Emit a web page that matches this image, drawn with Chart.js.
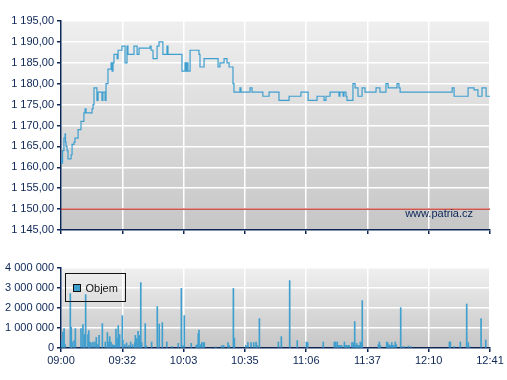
<!DOCTYPE html>
<html>
<head>
<meta charset="utf-8">
<script src="https://cdn.jsdelivr.net/npm/chart.js@4.4.1/dist/chart.umd.min.js"></script>
<style>
    body { margin: 0; background: #fff; width: 507px; height: 380px; overflow: hidden; position: relative; }
    #priceChart { position: absolute; left: 0; top: 0; }
    #volumeChart { position: absolute; left: 0; top: 255px; }
</style>
</head>
<body>
<canvas id="priceChart" width="507" height="245"></canvas>
<canvas id="volumeChart" width="507" height="125"></canvas>
<script>
// session 09:00 - 12:41, time in minutes from 09:00
const sessionLength = 221;
const timeLabels = ['09:00', '09:32', '10:03', '10:35', '11:06', '11:37', '12:10', '12:41'];
const referencePrice = 1150;

const priceTimes = [
    0, 0.5, 0.8, 1.5, 2.1, 2.3, 2.6, 3.1, 3.6, 5.2,
    5.7, 6.7, 7.2, 8.8, 10.3, 11.8, 12.4, 12.9, 16.0, 16.5,
    17.0, 18.5, 19.1, 21.1, 21.6, 22.7, 23.2, 24.2, 25.8, 26.3,
    26.8, 27.3, 28.9, 29.4, 31.4, 33.0, 34.0, 34.5, 37.6, 39.2,
    40.2, 45.9, 46.4, 47.4, 49.5, 50.5, 52.5, 54.6, 55.1, 62.3,
    63.9, 64.4, 64.9, 65.4, 66.5, 71.1, 71.6, 73.7, 80.9, 81.9,
    84.0, 85.5, 86.6, 88.6, 89.1, 92.2, 92.7, 97.4, 98.4, 104.0,
    107.2, 112.3, 117.5, 123.6, 127.3, 131.9, 135.5, 136.5, 138.6, 143.2,
    143.7, 145.3, 145.8, 146.8, 147.3, 150.4, 151.5, 153.0, 155.1, 156.6,
    162.3, 164.3, 167.4, 168.5, 173.1, 174.1, 174.7, 201.5, 202.5, 209.7,
    212.8, 214.8, 216.9, 219.0, 221
];
const priceValues = [
    1161, 1162, 1161, 1164, 1167, 1168, 1166, 1165, 1164, 1162,
    1163, 1165.5, 1166, 1167, 1169, 1171, 1173, 1174, 1173, 1174,
    1175, 1179, 1176, 1178, 1176, 1178, 1176, 1180, 1183.5, 1185,
    1183, 1185, 1187, 1186, 1188, 1189, 1185, 1189, 1187, 1189,
    1187, 1188.5, 1189, 1188, 1186, 1189, 1190, 1187, 1189, 1187,
    1183, 1185, 1183, 1185, 1183, 1188, 1187, 1184, 1186, 1184,
    1185, 1186, 1185, 1184, 1180, 1178, 1179, 1178, 1179, 1178,
    1177, 1178, 1176, 1177, 1178, 1176, 1177, 1176, 1177, 1178,
    1177, 1178, 1177, 1178, 1177, 1176, 1180, 1179, 1177, 1179,
    1178, 1179, 1178, 1180, 1179, 1180, 1179, 1178, 1179, 1177,
    1179, 1178.5, 1177, 1179, 1177
];

const volumeTimes = [
    0.4, 1.0, 1.6, 2.1, 4.8, 5.3, 5.7, 6.7, 7.4, 10.3,
    11.3, 12.0, 12.7, 13.9, 14.3, 14.9, 15.5, 16.5, 17.5, 18.2,
    18.9, 19.6, 21.3, 22.8, 23.9, 24.4, 25.1, 25.8, 26.6, 27.3,
    27.8, 28.3, 28.9, 29.5, 30.2, 31.6, 31.9, 32.8, 33.8, 34.9,
    35.9, 36.9, 38.0, 38.3, 39.0, 39.7, 40.3, 41.1, 41.6, 43.4,
    43.9, 46.7, 49.6, 50.6, 52.2, 54.5, 57.0, 60.4, 62.0, 62.9,
    63.5, 67.1, 69.6, 70.2, 70.7, 71.1, 71.8, 72.5, 73.3, 73.8,
    79.7, 82.8, 83.8, 86.0, 86.7, 88.8, 89.3, 95.2, 96.3, 97.9,
    99.3, 100.5, 101.0, 102.2, 112.0, 113.5, 117.8, 121.7, 126.4, 127.1,
    135.1, 140.8, 141.5, 142.3, 142.9, 143.7, 144.6, 146.0, 146.7, 147.2,
    147.9, 148.5, 149.9, 150.6, 151.3, 152.0, 152.3, 152.9, 153.5, 154.2,
    154.7, 155.2, 163.5, 164.0, 164.5, 167.8, 168.3, 168.8, 169.3, 169.9,
    170.4, 170.9, 171.4, 172.2, 172.7, 175.0, 175.8, 176.9, 178.9, 180.2,
    200.1, 200.6, 202.6, 205.7, 209.0, 209.8, 210.4, 216.4, 218.8
];
const volumeValues = [
    370000, 800000, 970000, 170000, 2720000, 1030000, 300000, 370000, 970000, 970000,
    1170000, 670000, 2670000, 670000, 870000, 300000, 250000, 300000, 300000, 530000,
    170000, 630000, 1220000, 300000, 770000, 300000, 570000, 300000, 170000, 130000,
    130000, 950000, 500000, 1120000, 670000, 1620000, 400000, 170000, 250000, 130000,
    300000, 170000, 270000, 630000, 470000, 830000, 620000, 3270000, 270000, 1220000,
    100000, 300000, 2070000, 1200000, 1270000, 300000, 80000, 230000, 2980000, 120000,
    1620000, 230000, 120000, 170000, 720000, 900000, 170000, 270000, 270000, 270000,
    50000, 120000, 130000, 270000, 130000, 2980000, 500000, 130000, 270000, 270000,
    270000, 300000, 130000, 1470000, 300000, 570000, 3370000, 370000, 300000, 270000,
    300000, 300000, 300000, 300000, 130000, 130000, 130000, 300000, 130000, 130000,
    130000, 130000, 270000, 270000, 1320000, 130000, 230000, 130000, 130000, 300000,
    270000, 2370000, 170000, 300000, 130000, 300000, 270000, 170000, 130000, 130000,
    270000, 130000, 130000, 300000, 170000, 2020000, 70000, 70000, 100000, 70000,
    300000, 300000, 70000, 300000, 2200000, 270000, 70000, 1470000, 400000
];

const NAVY = '#0c2656';
const LINE_BLUE = '#3f9fcf';
const FONT = { family: '"Liberation Sans", Arial, sans-serif', size: 11 };

const timeTickValues = timeLabels.map((_, i) => i * sessionLength / (timeLabels.length - 1));

function formatThousands(intPart) {
    return String(intPart).replace(/\B(?=(\d{3})+(?!\d))/g, ' ');
}

function formatPrice(v) {
    const parts = v.toFixed(2).split('.');
    return formatThousands(parts[0]) + ',' + parts[1];
}

// gradient behind the plot area
const plotBackground = {
    id: 'plotBackground',
    beforeDraw(chart) {
        const { ctx, chartArea: a } = chart;
        const g = ctx.createLinearGradient(0, a.top, 0, a.bottom);
        g.addColorStop(0, '#efefef');
        g.addColorStop(1, '#c6c6c6');
        ctx.save();
        ctx.fillStyle = g;
        ctx.fillRect(a.left, a.top, a.right - a.left, a.bottom - a.top);
        ctx.restore();
    }
};

const watermark = {
    id: 'watermark',
    afterDatasetsDraw(chart) {
        const { ctx, chartArea: a } = chart;
        ctx.save();
        ctx.font = '11px "Liberation Sans", Arial, sans-serif';
        ctx.fillStyle = NAVY;
        ctx.textAlign = 'right';
        ctx.textBaseline = 'middle';
        ctx.fillText('www.patria.cz', a.right - 17, a.bottom - 16);
        ctx.restore();
    }
};

const volumeLegend = {
    id: 'volumeLegend',
    afterDraw(chart) {
        const { ctx, chartArea: a } = chart;
        const x = a.left + 4.5, y = a.top + 5.5;
        ctx.save();
        ctx.strokeStyle = '#111';
        ctx.lineWidth = 1;
        ctx.strokeRect(x, y, 60, 28);
        ctx.fillStyle = LINE_BLUE;
        ctx.fillRect(x + 8, y + 11, 7, 7);
        ctx.strokeStyle = '#111';
        ctx.strokeRect(x + 8, y + 11, 7, 7);
        ctx.font = '11px "Liberation Sans", Arial, sans-serif';
        ctx.fillStyle = '#111';
        ctx.textBaseline = 'middle';
        ctx.fillText('Objem', x + 20, y + 15);
        ctx.restore();
    }
};

function timeAxis(showLabels, height) {
    return {
        type: 'linear',
        min: 0,
        max: sessionLength,
        offset: false,
        afterBuildTicks: (scale) => { scale.ticks = timeTickValues.map(v => ({ value: v })); },
        afterFit: (scale) => { scale.height = height; },
        ticks: {
            autoSkip: false,
            maxRotation: 0,
            color: NAVY,
            font: FONT,
            padding: 2,
            callback: (v, i) => showLabels ? timeLabels[i] : ''
        },
        grid: { offset: false, color: '#ffffff', lineWidth: 1.5, tickColor: NAVY, tickLength: 4 },
        border: { color: NAVY, width: 1.5 }
    };
}

function renderPriceChart() {
    const ctx = document.getElementById('priceChart').getContext('2d');
    new Chart(ctx, {
        type: 'line',
        data: {
            datasets: [{
                data: priceTimes.map((t, i) => ({ x: t, y: priceValues[i] })),
                borderColor: LINE_BLUE,
                borderWidth: 1.2,
                pointRadius: 0,
                stepped: 'after',
                fill: false
            }, {
                data: [{ x: 0, y: referencePrice }, { x: sessionLength, y: referencePrice }],
                borderColor: '#c0281f',
                borderWidth: 1.2,
                pointRadius: 0,
                fill: false
            }]
        },
        options: {
            responsive: false,
            animation: false,
            layout: { padding: { top: 21, right: 17, left: 0, bottom: 0 } },
            plugins: { legend: { display: false }, tooltip: { enabled: false } },
            scales: {
                x: timeAxis(false, 15),
                y: {
                    min: 1145,
                    max: 1195,
                    afterFit: (scale) => { scale.width = 61; },
                    ticks: { stepSize: 5, color: NAVY, font: FONT, padding: 3, callback: (v) => formatPrice(v) },
                    grid: { color: '#ffffff', lineWidth: 1.5, tickColor: NAVY, tickLength: 4 },
                    border: { color: NAVY, width: 1.5 }
                }
            }
        },
        plugins: [plotBackground, watermark]
    });
}

function renderVolumeChart() {
    const ctx = document.getElementById('volumeChart').getContext('2d');
    new Chart(ctx, {
        type: 'bar',
        data: {
            datasets: [{
                label: 'Objem',
                data: volumeTimes.map((t, i) => ({ x: t, y: volumeValues[i] })),
                backgroundColor: LINE_BLUE,
                barThickness: 1,
                borderWidth: 0
            }]
        },
        options: {
            responsive: false,
            animation: false,
            layout: { padding: { top: 13, right: 17, left: 0, bottom: 0 } },
            plugins: { legend: { display: false }, tooltip: { enabled: false } },
            scales: {
                x: timeAxis(true, 32),
                y: {
                    min: 0,
                    max: 4000000,
                    afterFit: (scale) => { scale.width = 61; },
                    ticks: { stepSize: 1000000, color: NAVY, font: FONT, padding: 3, callback: (v) => formatThousands(v) },
                    grid: { color: '#ffffff', lineWidth: 1.5, tickColor: NAVY, tickLength: 4 },
                    border: { color: NAVY, width: 1.5 }
                }
            }
        },
        plugins: [plotBackground, volumeLegend]
    });
}

renderPriceChart();
renderVolumeChart();
</script>
</body>
</html>
